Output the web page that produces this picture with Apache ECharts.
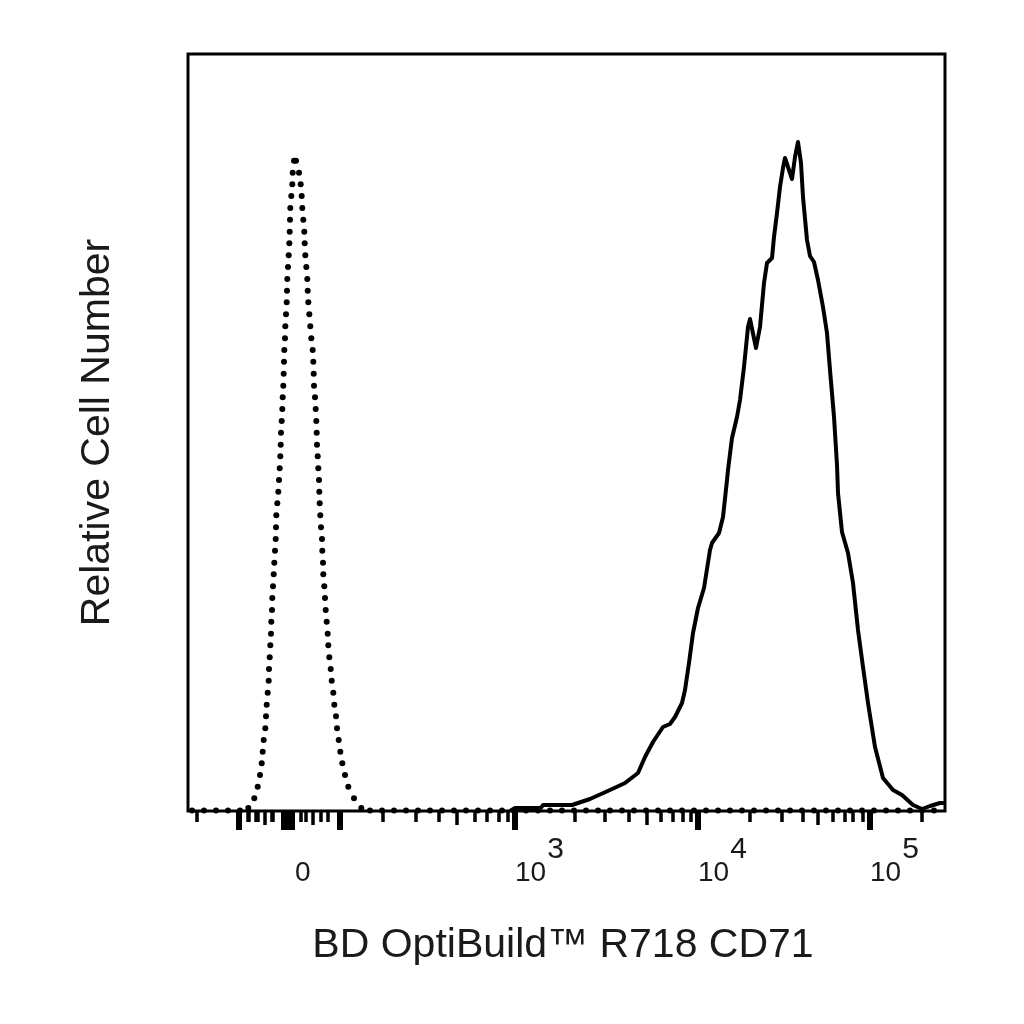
<!DOCTYPE html>
<html>
<head>
<meta http-equiv="Content-Type" content="text/html; charset=UTF-8">
<title>CD71</title>
<script src="https://cdn.jsdelivr.net/npm/echarts@6/dist/echarts.min.js"></script>
<style>
html, body { margin: 0; padding: 0; background: #fff; }
</style>
</head>
<body>
<div id="main" style="width: 1024px; height: 1024px;"></div>
<script type="text/javascript">
    // x is in display channels of the biexponential axis, y is relative cell count
    var axisMax = 757;

    var stainedX = [322, 327, 353, 355, 384, 402, 422, 437, 450, 457, 465, 475, 482, 487, 494, 497, 501, 505, 510, 516, 522, 524, 531, 535, 539, 540, 544, 549, 552, 556, 560, 562, 568, 572, 576, 579, 584, 586, 589, 592, 595, 597, 604, 607, 610, 613, 615, 619, 622, 626, 630, 635, 639, 642, 646, 649, 650, 654, 660, 665, 670, 675, 680, 687, 695, 705, 714, 725, 734, 742, 752, 757];
    var stainedY = [0, 3, 3, 6, 6, 12, 21, 28, 38, 54, 69, 84, 87, 94, 108, 121, 148, 178, 203, 223, 261, 268, 278, 294, 331, 341, 373, 394, 411, 444, 484, 492, 463, 484, 528, 548, 553, 574, 598, 624, 643, 653, 632, 654, 669, 648, 614, 571, 555, 549, 531, 504, 478, 441, 394, 346, 318, 279, 258, 228, 181, 144, 108, 64, 33, 21, 16, 6, 2, 5, 8, 8];

    // isotype control, one entry per printed dot
    var controlY = [650.3, 638.3, 626.7, 615, 603, 591.3, 579.3, 567.7, 555.7, 544, 532, 520.3, 508.7, 496.7, 484.7, 472.7, 461, 449.3, 437.3, 425.3, 413.7, 402, 390, 378.3, 366.3, 354.7, 342.7, 331, 319.3, 307.7, 295.7, 283.7, 272, 260.3, 248.3, 236.7, 224.7, 213, 201, 189.3, 177.3, 165.7, 153.7, 142, 130.3, 118.3, 106.3, 94.7, 82.7, 71, 59.3, 47.7, 36, 24.3, 12.7, 3];
    var controlLeftX = [106, 104.7, 104.3, 103.3, 102.3, 102, 101.7, 101.3, 100.7, 100, 99.3, 99, 98.7, 98, 97.3, 97, 96.3, 96, 95.7, 95.3, 94.7, 94.3, 93.7, 93, 92.7, 92.3, 91.7, 91, 90.3, 89.3, 88.3, 88, 87.7, 87, 86.3, 85.7, 85, 84.3, 84, 83.3, 83, 82.3, 81.7, 81, 80.7, 79.7, 78.7, 78, 77.3, 75.7, 74.7, 73.7, 72, 69.7, 66.3, 60.3];
    var controlRightX = [108, 111, 112.7, 113.7, 114.3, 115.3, 116.3, 116.7, 117.3, 118.3, 119.3, 119.7, 120.3, 121.3, 122.3, 123.3, 124.7, 125.3, 125.7, 126, 127, 127.7, 128.3, 128.7, 129, 129.7, 130.3, 131, 131.3, 131.7, 132.3, 133, 134, 134.3, 135, 135.3, 136.3, 137, 137.7, 138.7, 139.7, 140.3, 141.3, 142.7, 143.7, 145.3, 146.3, 148, 149, 150.7, 152.3, 154.3, 157, 160.3, 166, 173.3];
    var controlBaseX = [4, 16, 28, 40, 52, 182, 194, 206, 218, 230, 242, 254, 266, 278, 290, 302, 314, 326, 338, 350, 362, 374, 386, 398, 410, 422, 434, 446, 458, 470, 482, 494, 506, 518, 530, 542, 554, 566, 578, 590, 602, 614, 626, 638, 650, 662, 674, 686, 698, 710, 722, 734, 746];

    var smallTicks = [9, 60, 61, 68, 70, 84, 85, 113, 118, 133, 140, 195, 228, 251, 287, 299, 311, 320, 387, 417, 441, 473, 485, 495, 503, 562, 594, 615, 645, 657, 665, 675, 734];
    var mediumTicks = [77, 125, 269, 459, 630];
    var largeTicks = [51, 96, 100, 104, 152, 327, 510, 682];

    var tickLabelAt = [107, 327, 510, 682];
    var tickLabels = ['{b|0}', '{b|10}{s|3}', '{b|10}{s|4}', '{b|10}{s|5}'];

    var xTitle = 'BD OptiBuild™ R718 CD71';
    var yTitle = 'Relative Cell Number';

    function zip(xs, ys) {
        return xs.map(function (x, i) { return [x, ys[i]]; });
    }

    var controlDots = zip(controlLeftX, controlY)
        .concat(zip(controlRightX, controlY))
        .concat(controlBaseX.map(function (x) { return [x, 0.5]; }));

    function tickAxis(values, length, width) {
        return {
            type: 'value',
            min: 0,
            max: axisMax,
            position: 'bottom',
            splitLine: { show: false },
            axisLine: { show: false },
            axisLabel: { show: false },
            axisTick: {
                show: true,
                customValues: values,
                length: length,
                inside: false,
                lineStyle: { color: '#000', width: width, cap: 'butt' }
            }
        };
    }

    var labelAxis = tickAxis(largeTicks, 19, 6);
    labelAxis.axisLabel = {
        show: true,
        customValues: tickLabelAt,
        margin: 46,
        align: 'left',
        verticalAlign: 'top',
        formatter: function (v) {
            return tickLabels[tickLabelAt.indexOf(v)];
        },
        rich: {
            b: { fontFamily: 'Liberation Sans', fontSize: 28, color: '#1a1a1a', verticalAlign: 'bottom', lineHeight: 30 },
            s: { fontFamily: 'Liberation Sans', fontSize: 30, color: '#1a1a1a', padding: [0, 0, 44, 1], lineHeight: 30 }
        }
    };
    labelAxis.name = xTitle;
    labelAxis.nameLocation = 'middle';
    labelAxis.nameGap = 114;
    labelAxis.nameTextStyle = { fontFamily: 'Liberation Sans', fontSize: 41, color: '#1a1a1a', padding: [0, 7, 0, 0] };

    var chart = echarts.init(document.getElementById('main'), null, { renderer: 'canvas' });
    chart.setOption({
        animation: false,
        backgroundColor: '#fff',
        grid: {
            left: 188,
            top: 54,
            width: 757,
            height: 757,
            show: true,
            borderColor: '#000',
            borderWidth: 3,
            backgroundColor: '#fff'
        },
        xAxis: [
            labelAxis,
            tickAxis(mediumTicks, 14, 3.5),
            tickAxis(smallTicks, 11, 3.5)
        ],
        yAxis: {
            type: 'value',
            min: 0,
            max: axisMax,
            name: yTitle,
            nameLocation: 'middle',
            nameRotate: 90,
            nameGap: 70,
            nameTextStyle: { fontFamily: 'Liberation Sans', fontSize: 41, color: '#1a1a1a' },
            splitLine: { show: false },
            axisLine: { show: false },
            axisTick: { show: false },
            axisLabel: { show: false }
        },
        series: [
            {
                type: 'scatter',
                data: controlDots,
                symbol: 'circle',
                symbolSize: 6,
                silent: true,
                clip: false,
                itemStyle: { color: '#000', opacity: 1 }
            },
            {
                type: 'line',
                data: zip(stainedX, stainedY),
                showSymbol: false,
                smooth: false,
                silent: true,
                clip: false,
                lineStyle: { color: '#000', width: 4, join: 'round' }
            }
        ]
    });
</script>
</body>
</html>
